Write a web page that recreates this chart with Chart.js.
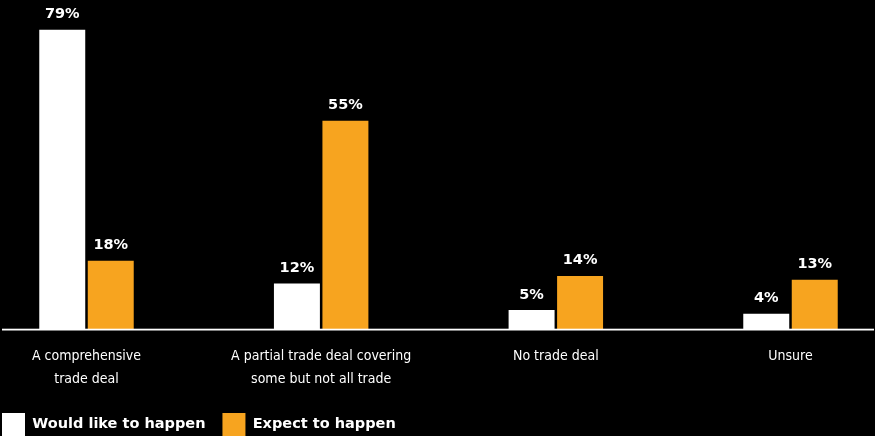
<!DOCTYPE html>
<html>
<head>
<meta charset="utf-8">
<script src="https://cdn.jsdelivr.net/npm/chart.js@4.4.1/dist/chart.umd.min.js"></script>
<style>
  html, body { margin: 0; padding: 0; background: #000; }
  #wrap { position: relative; width: 875px; height: 436px; }
</style>
</head>
<body>
<div id="wrap"><canvas id="c"></canvas></div>
<script>
const categories = [
  ["A comprehensive", "trade deal"],
  ["A partial trade deal covering", "some but not all trade"],
  "No trade deal",
  "Unsure"
];
const seriesNames = ["Would like to happen", "Expect to happen"];
const wouldLike = [79, 12, 5, 4];
const expectTo = [18, 55, 14, 13];

const WHITE = "#ffffff";
const ORANGE = "#F7A41F";

const baselinePlugin = {
  id: "baseline",
  afterDatasetsDraw(chart) {
    const ctx = chart.ctx;
    const y = chart.scales.y.getPixelForValue(0);
    ctx.save();
    ctx.fillStyle = "#ffffff";
    ctx.fillRect(2, y - 0.3, 872, 1.8);
    ctx.restore();
  }
};

const valueLabels = {
  id: "valueLabels",
  afterDatasetsDraw(chart) {
    const ctx = chart.ctx;
    ctx.save();
    ctx.fillStyle = "#ffffff";
    ctx.font = "bold 14.5px 'DejaVu Sans', sans-serif";
    ctx.textAlign = "center";
    ctx.textBaseline = "alphabetic";
    chart.data.datasets.forEach((ds, di) => {
      const meta = chart.getDatasetMeta(di);
      meta.data.forEach((bar, i) => {
        ctx.fillText(ds.data[i] + "%", bar.x, bar.y - 11.5);
      });
    });
    ctx.restore();
  }
};

new Chart(document.getElementById("c"), {
  type: "bar",
  data: {
    labels: categories,
    datasets: [
      { label: seriesNames[0], data: wouldLike, backgroundColor: WHITE, borderColor: WHITE, borderWidth: 0 },
      { label: seriesNames[1], data: expectTo, backgroundColor: ORANGE, borderColor: ORANGE, borderWidth: 0 }
    ]
  },
  options: {
    responsive: true,
    maintainAspectRatio: false,
    animation: false,
    events: [],
    layout: { padding: { left: -15, right: 0, top: 26, bottom: -10 } },
    datasets: { bar: { categoryPercentage: 0.4133, barPercentage: 0.948, clip: false } },
    scales: {
      x: {
        offset: false,
        grid: { display: false, drawTicks: false },
        border: { display: false },
        ticks: {
          color: "#ffffff",
          font: { family: "'DejaVu Sans Condensed', 'DejaVu Sans', sans-serif", size: 14, lineHeight: 1.7 },
          padding: 15,
          autoSkip: false,
          maxRotation: 0,
          minRotation: 0
        },
        afterFit(s) { s.height = 67; }
      },
      y: {
        min: 0, max: 80,
        grid: { display: false },
        border: { display: false },
        ticks: { display: false },
        afterFit(s) { s.width = 101.5; }
      },
      y2: {
        position: "right",
        min: 0, max: 1,
        grid: { display: false },
        border: { display: false },
        ticks: { display: false },
        afterFit(s) { s.width = 84.5; }
      }
    },
    plugins: {
      legend: {
        position: "bottom",
        align: "start",
        labels: {
          color: "#ffffff",
          boxWidth: 23,
          boxHeight: 23,
          padding: 17,
          font: { family: "'DejaVu Sans', sans-serif", size: 14.5, weight: "bold" }
        }
      },
      tooltip: { enabled: false }
    }
  },
  plugins: [baselinePlugin, valueLabels]
});
</script>
</body>
</html>
